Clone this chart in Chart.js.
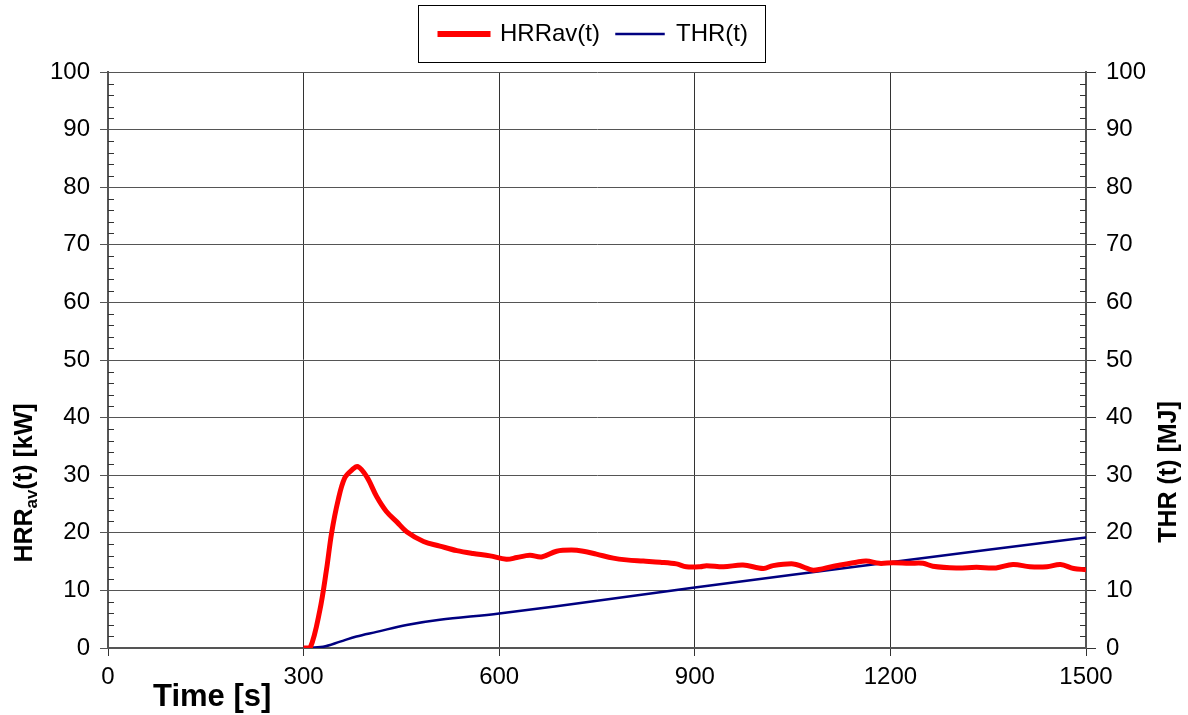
<!DOCTYPE html>
<html>
<head>
<meta charset="utf-8">
<script src="https://cdn.jsdelivr.net/npm/chart.js@4.4.1/dist/chart.umd.min.js"></script>
<style>
  html, body { margin: 0; padding: 0; background: #fff; }
  #wrap { width: 1188px; height: 715px; }
</style>
</head>
<body>
<div id="wrap"><canvas id="hrrChart"></canvas></div>
<script>
// time [s] and HRRav(t) [kW]
var hrrTime = [300, 310, 325, 335, 343, 353, 363, 374, 383, 397, 412, 427, 443, 458, 484, 509, 535, 560, 586, 611,
  627, 647, 665, 688, 711, 729, 749, 775, 795, 821, 847, 872, 887, 908, 918, 944, 974, 1005, 1020, 1051,
  1066, 1082, 1113, 1148, 1163, 1183, 1204, 1229, 1250, 1265, 1301, 1332, 1362, 1388, 1414, 1440, 1461, 1481, 1500];
var hrrValue = [0, 0, 6.6, 13.5, 20, 25.7, 29.5, 30.9, 31.5, 29.7, 26.3, 23.7, 21.9, 20.2, 18.5, 17.7, 16.9, 16.4, 16.0, 15.4,
  15.7, 16.1, 15.8, 16.8, 17.0, 16.8, 16.3, 15.6, 15.3, 15.1, 14.9, 14.6, 14.1, 14.1, 14.3, 14.1, 14.4, 13.8, 14.3, 14.6,
  14.1, 13.5, 14.2, 14.9, 15.1, 14.7, 14.8, 14.7, 14.7, 14.2, 13.9, 14.0, 13.9, 14.5, 14.1, 14.1, 14.5, 13.8, 13.6];

// time [s] and THR(t) [MJ]
var thrTime = [300, 330, 356, 381, 412, 458, 509, 600, 770, 900, 1200, 1500];
var thrValue = [0, 0.2, 1.1, 2.0, 2.8, 4.0, 4.9, 6.0, 8.5, 10.5, 14.9, 19.2];

var seriesNames = ['HRRav(t)', 'THR(t)'];
var xTicks = [0, 300, 600, 900, 1200, 1500];
var yTicks = [0, 10, 20, 30, 40, 50, 60, 70, 80, 90, 100];
var yMinorStep = 2;

var FONT = '"Liberation Sans", Arial, sans-serif';
var legendThick = [5, 1.5];

function pairs(xs, ys) {
  return xs.map(function (x, i) { return { x: x, y: ys[i] }; });
}
function plain(v) { return String(v); }

// force the legend band to a fixed height so the plot starts where it should
var legendHeight = {
  id: 'legendHeight',
  beforeInit: function (chart) {
    var fit = chart.legend.fit;
    chart.legend.fit = function () {
      fit.bind(chart.legend)();
      this.height = 72;
    };
  }
};

// minor ticks on both value axes, and the extra text
var decorations = {
  id: 'decorations',
  beforeDatasetsDraw: function (chart) {
    var ctx = chart.ctx;
    var y = chart.scales.y, y2 = chart.scales.y2;
    ctx.save();
    ctx.strokeStyle = '#333';
    ctx.lineWidth = 1;
    for (var v = yTicks[0]; v <= yTicks[yTicks.length - 1]; v += yMinorStep) {
      if (yTicks.indexOf(v) >= 0) continue;
      var p1 = Math.round(y.getPixelForValue(v)) + 0.5;
      ctx.beginPath(); ctx.moveTo(y.right, p1); ctx.lineTo(y.right + 6, p1); ctx.stroke();
      var p2 = Math.round(y2.getPixelForValue(v)) + 0.5;
      ctx.beginPath(); ctx.moveTo(y2.left - 6, p2); ctx.lineTo(y2.left, p2); ctx.stroke();
    }
    ctx.restore();
  },
  afterDraw: function (chart) {
    var ctx = chart.ctx;
    ctx.save();

    // legend frame
    var boxes = chart.legend.legendHitBoxes;
    if (boxes && boxes.length) {
      var l = boxes[0].left, r = boxes[boxes.length - 1].left + boxes[boxes.length - 1].width;
      ctx.strokeStyle = '#000';
      ctx.lineWidth = 1;
      ctx.strokeRect(Math.round(l - 22) + 0.5, 5.5, Math.round(r - l + 39), 57);
    }

    ctx.fillStyle = '#000';

    // x title
    ctx.font = 'bold 31px ' + FONT;
    ctx.textAlign = 'left';
    ctx.textBaseline = 'middle';
    ctx.fillText('Time [s]', 153, 697);

    // left title with subscript
    ctx.save();
    ctx.translate(25, 483);
    ctx.rotate(-Math.PI / 2);
    var big = 'bold 25px ' + FONT, small = 'bold 17px ' + FONT;
    ctx.font = big;
    var w1 = ctx.measureText('HRR').width;
    var w3 = ctx.measureText('(t) [kW]').width;
    ctx.font = small;
    var w2 = ctx.measureText('av').width;
    var x0 = -(w1 + w2 + w3) / 2;
    ctx.textBaseline = 'middle';
    ctx.font = big;
    ctx.fillText('HRR', x0, 0);
    ctx.font = small;
    ctx.fillText('av', x0 + w1, 7);
    ctx.font = big;
    ctx.fillText('(t) [kW]', x0 + w1 + w2, 0);
    ctx.restore();

    // right title
    ctx.save();
    ctx.translate(1169, 472);
    ctx.rotate(-Math.PI / 2);
    ctx.font = 'bold 25px ' + FONT;
    ctx.textAlign = 'center';
    ctx.textBaseline = 'middle';
    ctx.fillText('THR (t) [MJ]', 0, 0);
    ctx.restore();

    ctx.restore();
  }
};

var ctx = document.getElementById('hrrChart').getContext('2d');
new Chart(ctx, {
  type: 'line',
  data: {
    datasets: [
      {
        label: seriesNames[0],
        data: pairs(hrrTime, hrrValue),
        yAxisID: 'y',
        borderColor: '#ff0000',
        backgroundColor: '#ff0000',
        borderWidth: 5,
        pointRadius: 0,
        tension: 0.35,
        fill: false
      },
      {
        label: seriesNames[1],
        data: pairs(thrTime, thrValue),
        yAxisID: 'y2',
        borderColor: '#000080',
        backgroundColor: '#000080',
        borderWidth: 2.5,
        pointRadius: 0,
        tension: 0.35,
        fill: false
      }
    ]
  },
  options: {
    responsive: true,
    maintainAspectRatio: false,
    animation: false,
    layout: { padding: 0 },
    plugins: {
      tooltip: { enabled: false },
      legend: {
        display: true,
        position: 'top',
        title: { display: true, text: '', padding: 0, font: { size: 5 } },
        labels: {
          color: '#000',
          font: { family: FONT, size: 24 },
          boxWidth: 48,
          boxHeight: 1,
          padding: 16,
          generateLabels: function (chart) {
            return chart.data.datasets.map(function (ds, i) {
              return {
                text: ds.label,
                fillStyle: ds.borderColor,
                strokeStyle: ds.borderColor,
                lineWidth: legendThick[i],
                fontColor: '#000',
                hidden: false,
                datasetIndex: i
              };
            });
          }
        }
      }
    },
    scales: {
      x: {
        type: 'linear',
        min: xTicks[0],
        max: xTicks[xTicks.length - 1],
        afterFit: function (s) { s.height = 67; },
        afterBuildTicks: function (s) { s.ticks = xTicks.map(function (v) { return { value: v }; }); },
        ticks: {
          color: '#000',
          font: { family: FONT, size: 24 },
          padding: 7,
          maxRotation: 0,
          autoSkip: false,
          callback: plain
        },
        grid: { color: '#333', lineWidth: 1, tickLength: 8 },
        border: { color: '#555', width: 2 }
      },
      y: {
        position: 'left',
        min: yTicks[0],
        max: yTicks[yTicks.length - 1],
        afterFit: function (s) { s.width = 108; },
        afterBuildTicks: function (s) { s.ticks = yTicks.map(function (v) { return { value: v }; }); },
        ticks: {
          color: '#000',
          font: { family: FONT, size: 24 },
          padding: 10,
          callback: plain
        },
        grid: { color: '#555', lineWidth: 1, tickLength: 8 },
        border: { color: '#555', width: 2 }
      },
      y2: {
        position: 'right',
        min: yTicks[0],
        max: yTicks[yTicks.length - 1],
        afterFit: function (s) { s.width = 102; },
        afterBuildTicks: function (s) { s.ticks = yTicks.map(function (v) { return { value: v }; }); },
        ticks: {
          color: '#000',
          font: { family: FONT, size: 24 },
          padding: 10,
          callback: plain
        },
        grid: { drawOnChartArea: false, color: '#333', lineWidth: 1, tickLength: 10 },
        border: { color: '#555', width: 2 }
      }
    }
  },
  plugins: [legendHeight, decorations]
});
</script>
</body>
</html>
